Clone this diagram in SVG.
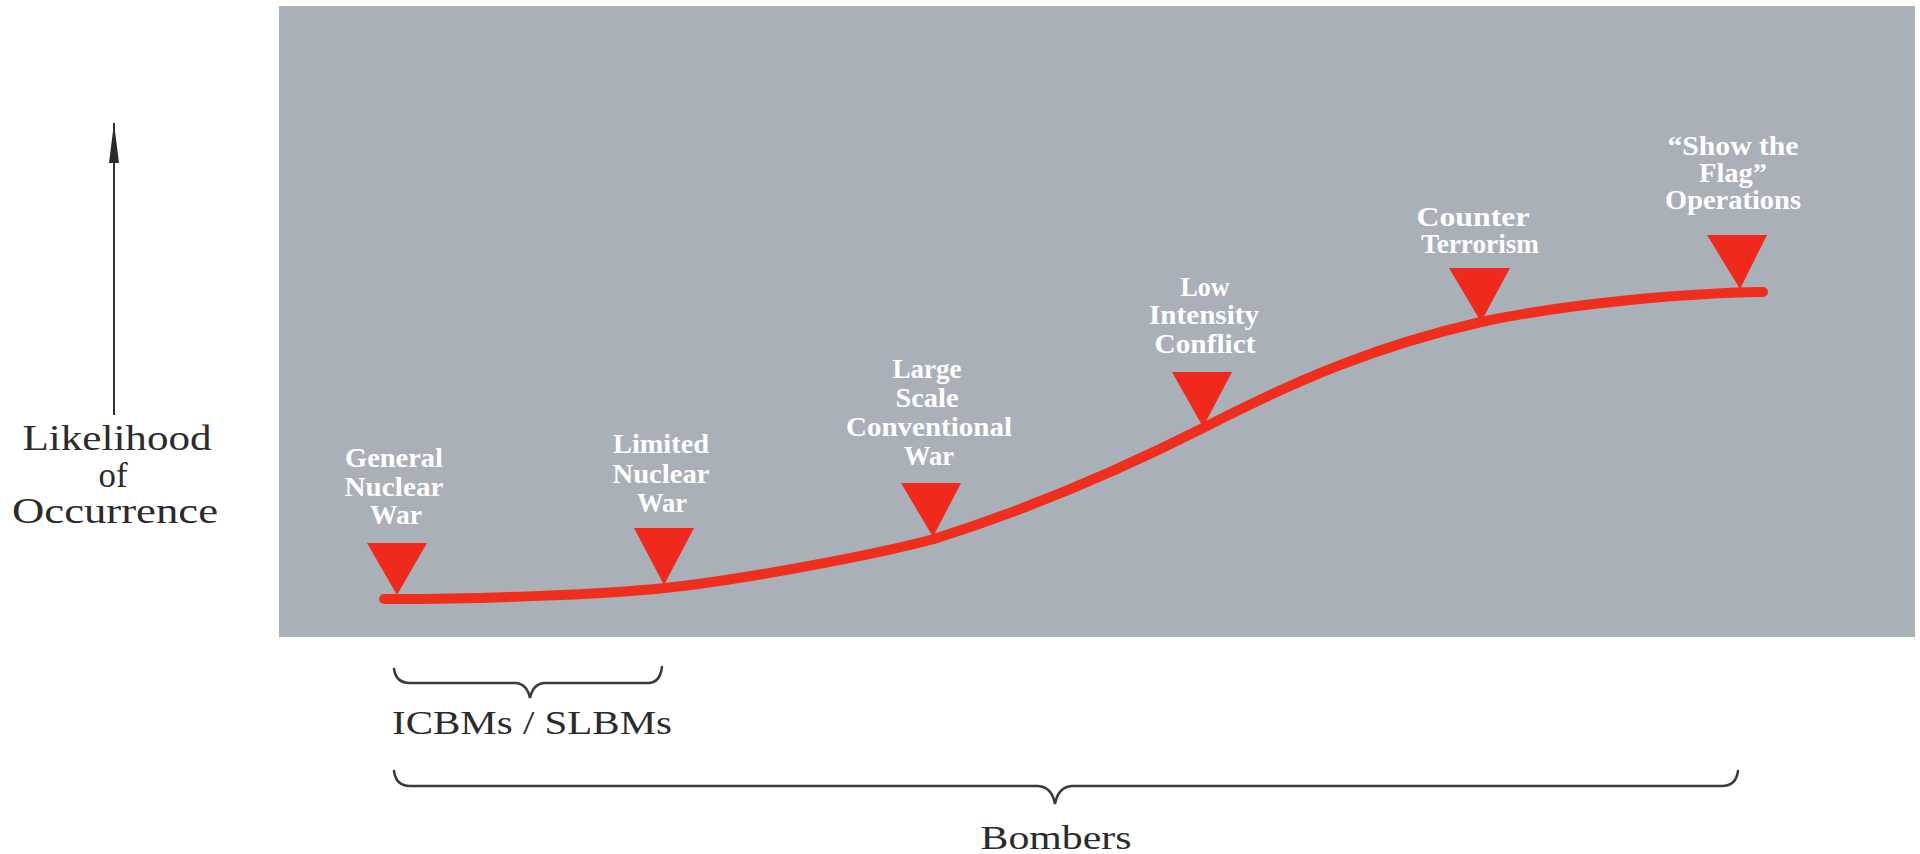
<svg xmlns="http://www.w3.org/2000/svg" width="1920" height="854" viewBox="0 0 1920 854">
  <defs>
    <style>
      .panel { fill: #aab0b8; }
      .curve { fill: none; stroke: #ef2e1e; stroke-width: 10; stroke-linecap: round; stroke-linejoin: round; }
      .marker { fill: #ef2a1c; }
      .lbl { font-family: "Liberation Serif", "Times New Roman", serif; font-weight: bold; font-size: 27px; fill: #ffffff; text-anchor: middle; }
      .axis { font-family: "Liberation Serif", "Times New Roman", serif; font-size: 35px; fill: #2b2b2b; text-anchor: middle; }
      .grp { font-family: "Liberation Serif", "Times New Roman", serif; font-size: 34px; fill: #2b2b2b; text-anchor: middle; }
      .brace { fill: none; stroke: #3a3a3a; stroke-width: 2.5; stroke-linecap: round; }
      .axisline { stroke: #333333; stroke-width: 2; }
    </style>
    <!-- long narrow arrowhead, drawn along +x so orient="auto" turns it with the line -->
    <marker id="arrowhead" markerUnits="userSpaceOnUse" markerWidth="40" markerHeight="12" refX="40" refY="6" orient="auto" viewBox="0 0 40 12">
      <path d="M40,6 L0,1 L0,11 Z" fill="#2a2a2a"/>
    </marker>
  </defs>

  <!-- background -->
  <rect x="0" y="0" width="1920" height="854" fill="#ffffff"/>
  <rect class="panel" x="279" y="6" width="1636" height="631"/>

  <!-- vertical axis -->
  <g id="axis">
    <line class="axisline" x1="114" y1="415" x2="114" y2="123" marker-end="url(#arrowhead)"/>
    <text class="axis" x="117" y="450" textLength="189" lengthAdjust="spacingAndGlyphs">Likelihood</text>
    <text class="axis" x="113" y="487" textLength="29" lengthAdjust="spacingAndGlyphs">of</text>
    <text class="axis" x="115" y="523" textLength="206" lengthAdjust="spacingAndGlyphs">Occurrence</text>
  </g>

  <!-- likelihood curve -->
  <g id="connectors">
    <path class="curve" d="M384,599 L397,599 C470,599 600,595 665,588 C740,580 870,556 934,539 C1010,515 1100,480 1203,428 C1300,378 1380,345 1481,322 C1560,305 1680,293 1763,292"/>
  </g>

  <!-- conflict types -->
  <g id="general-nuclear-war">
    <path class="marker" d="M367,543 L427,543 L397,595 Z"/>
    <text class="lbl" x="394" y="467" textLength="98" lengthAdjust="spacingAndGlyphs">General</text>
    <text class="lbl" x="394" y="496" textLength="99" lengthAdjust="spacingAndGlyphs">Nuclear</text>
    <text class="lbl" x="396" y="524" textLength="52" lengthAdjust="spacingAndGlyphs">War</text>
  </g>

  <g id="limited-nuclear-war">
    <path class="marker" d="M634,528 L694,528 L664,585 Z"/>
    <text class="lbl" x="661" y="453" textLength="96" lengthAdjust="spacingAndGlyphs">Limited</text>
    <text class="lbl" x="661" y="483" textLength="97" lengthAdjust="spacingAndGlyphs">Nuclear</text>
    <text class="lbl" x="662" y="512" textLength="50" lengthAdjust="spacingAndGlyphs">War</text>
  </g>

  <g id="large-scale-conventional-war">
    <path class="marker" d="M901,483 L961,483 L933,537 Z"/>
    <text class="lbl" x="927" y="378" textLength="69" lengthAdjust="spacingAndGlyphs">Large</text>
    <text class="lbl" x="927" y="407" textLength="63" lengthAdjust="spacingAndGlyphs">Scale</text>
    <text class="lbl" x="929" y="436" textLength="166" lengthAdjust="spacingAndGlyphs">Conventional</text>
    <text class="lbl" x="929" y="465" textLength="50" lengthAdjust="spacingAndGlyphs">War</text>
  </g>

  <g id="low-intensity-conflict">
    <path class="marker" d="M1172,372 L1232,372 L1203,427 Z"/>
    <text class="lbl" x="1205" y="296" textLength="49" lengthAdjust="spacingAndGlyphs">Low</text>
    <text class="lbl" x="1204" y="324" textLength="110" lengthAdjust="spacingAndGlyphs">Intensity</text>
    <text class="lbl" x="1205" y="353" textLength="101" lengthAdjust="spacingAndGlyphs">Conflict</text>
  </g>

  <g id="counter-terrorism">
    <path class="marker" d="M1449,268 L1510,268 L1481,322 Z"/>
    <text class="lbl" x="1473" y="226" textLength="113" lengthAdjust="spacingAndGlyphs">Counter</text>
    <text class="lbl" x="1480" y="253" textLength="118" lengthAdjust="spacingAndGlyphs">Terrorism</text>
  </g>

  <g id="show-the-flag">
    <path class="marker" d="M1707,235 L1767,235 L1740,289 Z"/>
    <text class="lbl" x="1733" y="155" textLength="131" lengthAdjust="spacingAndGlyphs">“Show the</text>
    <text class="lbl" x="1733" y="182" textLength="68" lengthAdjust="spacingAndGlyphs">Flag”</text>
    <text class="lbl" x="1733" y="209" textLength="136" lengthAdjust="spacingAndGlyphs">Operations</text>
  </g>

  <!-- delivery systems -->
  <g id="icbms-slbms">
    <path class="brace" d="M394,669 Q396,683 410,683 L516,683 Q527,684 530,698 Q533,684 544,683 L648,683 Q660,683 662,667"/>
    <text class="grp" x="532" y="734" textLength="280" lengthAdjust="spacingAndGlyphs">ICBMs / SLBMs</text>
  </g>

  <g id="bombers">
    <path class="brace" d="M394,771 Q396,786 410,786 L1038,786 Q1052,787 1055,804 Q1058,787 1072,786 L1722,786 Q1736,786 1738,771"/>
    <text class="grp" x="1056" y="849" font-size="31" textLength="151" lengthAdjust="spacingAndGlyphs">Bombers</text>
  </g>
</svg>
